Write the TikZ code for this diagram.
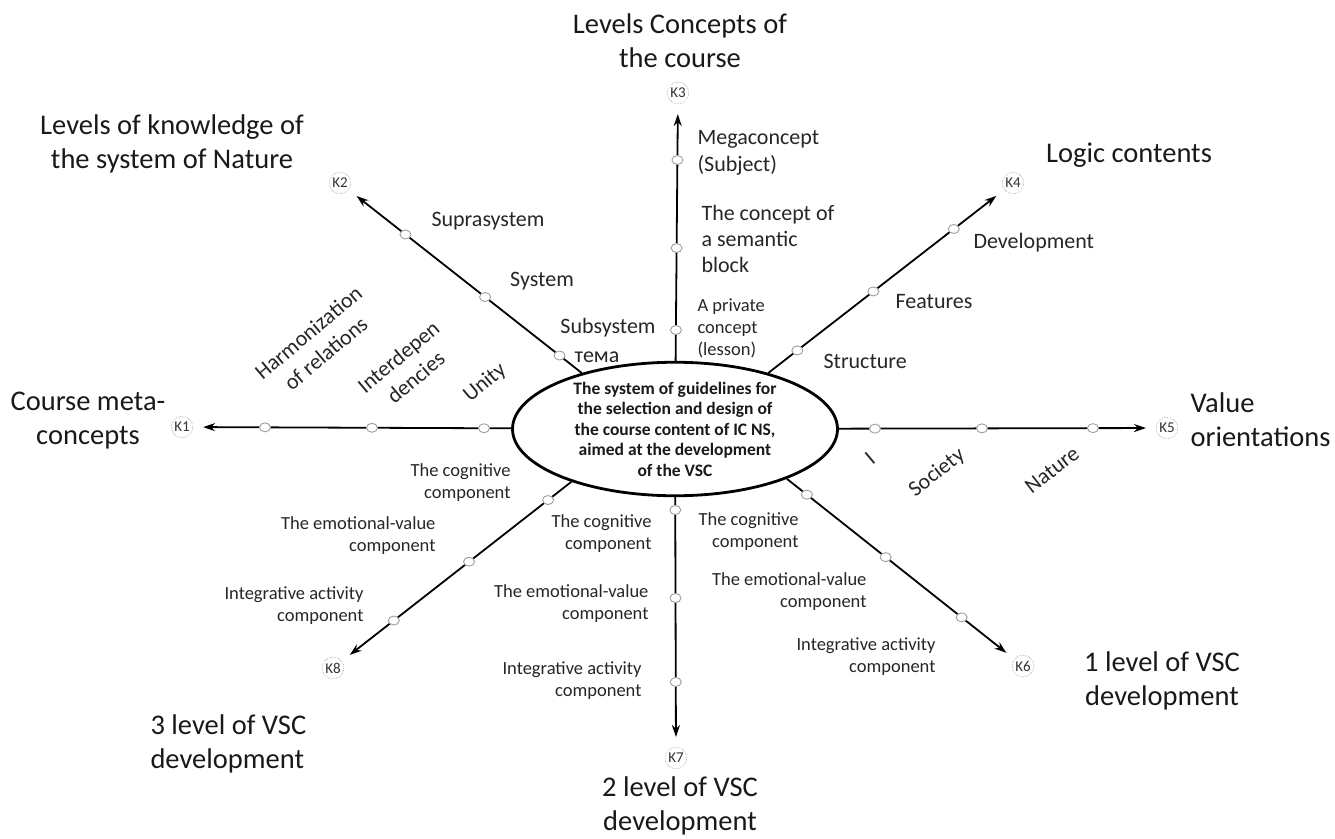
\documentclass[tikz,border=0pt]{standalone}
\usepackage{fontspec}
\setmainfont{Carlito}
\usetikzlibrary{arrows.meta,shapes.geometric,calc}

\begin{document}
\begin{tikzpicture}[x=1pt,y=-1pt,
  axis/.style={line width=1.8pt, -{Stealth[length=12pt,width=8pt]}, shorten >=10pt},
  dotn/.style={ellipse, draw=gray!75, fill=white, line width=0.9pt, inner sep=0pt,
               minimum width=11pt, minimum height=9pt},
  kbox/.style={circle, draw=gray!75, densely dotted, line width=0.6pt, inner sep=1.2pt,
               font=\fontsize{15}{15}\selectfont, text=black!80},
  lab/.style={font=\fontsize{22}{27}\selectfont, text=black!85},
  sub/.style={font=\fontsize{18.5}{22}\selectfont, text=black!85},
  ttl/.style={font=\fontsize{28.5}{34}\selectfont, text=black!90, align=center},
]
\useasboundingbox (0,0) rectangle (1335,838);

% central ellipse
\node[ellipse, draw, line width=2.8pt, minimum width=325pt, minimum height=128pt,
      inner sep=0pt, align=center, text=black!90,
      font=\bfseries\fontsize{17.5}{20.5}\selectfont] (c) at (675,429)
  {The system of guidelines for\\the selection and design of\\the course content of IC NS,\\aimed at the development\\of the VSC};

% axis end markers
\node[kbox] (k1) at (182,427) {K1};
\node[kbox] (k2) at (340,183) {K2};
\node[kbox] (k3) at (678,93)  {K3};
\node[kbox] (k4) at (1013,183) {K4};
\node[kbox] (k5) at (1167,428) {K5};
\node[kbox] (k6) at (1023,666) {K6};
\node[kbox] (k7) at (676,758) {K7};
\node[kbox] (k8) at (333,668) {K8};

% axes
\coordinate (s2) at (c.149);
\coordinate (s4) at (c.31);
\coordinate (s6) at (c.-24);
\coordinate (s8) at (c.207);
\draw[axis] (c) -- (k1);
\draw[axis] (s2) -- (k2);
\draw[axis] (c) -- (k3);
\draw[axis] (s4) -- (k4);
\draw[axis] (c) -- (k5);
\draw[axis] (s6) -- (k6);
\draw[axis] (c) -- (k7);
\draw[axis] (s8) -- (k8);

% level points on the axes
\node[dotn] (p11) at ($(c)!(265,424)!(k1)$) {};
\node[dotn] (p12) at ($(c)!(372,424)!(k1)$) {};
\node[dotn] (p13) at ($(c)!(484,424)!(k1)$) {};
\node[dotn] (p21) at ($(s2)!(405,235)!(k2)$) {};
\node[dotn] (p22) at ($(s2)!(485,297)!(k2)$) {};
\node[dotn] (p23) at ($(s2)!(560,355)!(k2)$) {};
\node[dotn] (p31) at ($(c)!(678,160)!(k3)$) {};
\node[dotn] (p32) at ($(c)!(678,248)!(k3)$) {};
\node[dotn] (p33) at ($(c)!(678,330)!(k3)$) {};
\node[dotn] (p41) at ($(s4)!(797,350)!(k4)$) {};
\node[dotn] (p42) at ($(s4)!(873,291)!(k4)$) {};
\node[dotn] (p43) at ($(s4)!(953,228)!(k4)$) {};
\node[dotn] (p51) at ($(c)!(875,428)!(k5)$) {};
\node[dotn] (p52) at ($(c)!(982,428)!(k5)$) {};
\node[dotn] (p53) at ($(c)!(1093,428)!(k5)$) {};
\node[dotn] (p61) at ($(s6)!(805,497)!(k6)$) {};
\node[dotn] (p62) at ($(s6)!(885,558)!(k6)$) {};
\node[dotn] (p63) at ($(s6)!(962,617)!(k6)$) {};
\node[dotn] (p71) at ($(c)!(673,510)!(k7)$) {};
\node[dotn] (p72) at ($(c)!(673,598)!(k7)$) {};
\node[dotn] (p73) at ($(c)!(673,682)!(k7)$) {};
\node[dotn] (p81) at ($(s8)!(548,500)!(k8)$) {};
\node[dotn] (p82) at ($(s8)!(470,563)!(k8)$) {};
\node[dotn] (p83) at ($(s8)!(395,622)!(k8)$) {};

% K1: course meta-concepts
\node[lab, rotate=40, align=center] (l11) at (317,343) {Harmonization\\of relations};
\node[lab, rotate=40, align=center] (l12) at (407,367) {Interdepen\\dencies};
\node[lab, rotate=40] (l13) at (485,383) {Unity};

% K2: levels of knowledge
\node[lab] (l21) at (488,221) {Suprasystem};
\node[lab] (l22) at (542,281) {System};
\node[lab] (l23) at (608,328) {Subsystem};
\node[lab] (l24) at (597,357) {тема};

% K3: levels of concepts
\node[lab, anchor=west, align=left] (l31) at (694,153) {Megaconcept\\(Subject)};
\node[lab, anchor=west, align=left, font=\fontsize{22}{26}\selectfont] (l32) at (698,239) {The concept of\\a semantic\\block};
\node[sub, anchor=west, align=left] (l33) at (694,328) {A private\\concept\\(lesson)};

% K4: logic of contents
\node[lab, anchor=west] (l41) at (970,243) {Development};
\node[lab, anchor=west] (l42) at (892,302) {Features};
\node[lab, anchor=west] (l43) at (820,361) {Structure};

% K5: value orientations
\node[lab, rotate=40] (l51) at (870,458) {I};
\node[lab, rotate=38] (l52) at (937,473) {Society};
\node[lab, rotate=38] (l53) at (1052,470) {Nature};

% K6, K7, K8: components of VSC development
\node[sub, anchor=east, align=right] (l61) at (802,532) {The cognitive\\component};
\node[sub, anchor=east, align=right] (l62) at (870,592) {The emotional-value\\component};
\node[sub, anchor=east, align=right] (l63) at (939,657) {Integrative activity\\component};
\node[sub, anchor=east, align=right] (l71) at (655,534) {The cognitive\\component};
\node[sub, anchor=east, align=right] (l72) at (652,604) {The emotional-value\\component};
\node[sub, anchor=east, align=right] (l73) at (645,681) {Integrative activity\\component};
\node[sub, anchor=east, align=right] (l81) at (514,483) {The cognitive\\component};
\node[sub, anchor=east, align=right] (l82) at (439,536) {The emotional-value\\component};
\node[sub, anchor=east, align=right] (l83) at (367,606) {Integrative activity\\component};

% axis titles
\node[ttl] (t1) at (88,421) {Course meta-\\concepts};
\node[ttl] (t2) at (172,144) {Levels of knowledge of\\the system of Nature};
\node[ttl] (t3) at (680,41) {Levels Concepts of\\the course};
\node[ttl] (t4) at (1129,155) {Logic contents};
\node[ttl, align=left, anchor=west] (t5) at (1187,420) {Value\\orientations};
\node[ttl] (t6) at (1162,681) {1 level of VSC\\development};
\node[ttl] (t7) at (680,806) {2 level of VSC\\development};
\node[ttl, align=left, anchor=west] (t8) at (147,744) {3 level of VSC\\development};
\end{tikzpicture}
\end{document}
